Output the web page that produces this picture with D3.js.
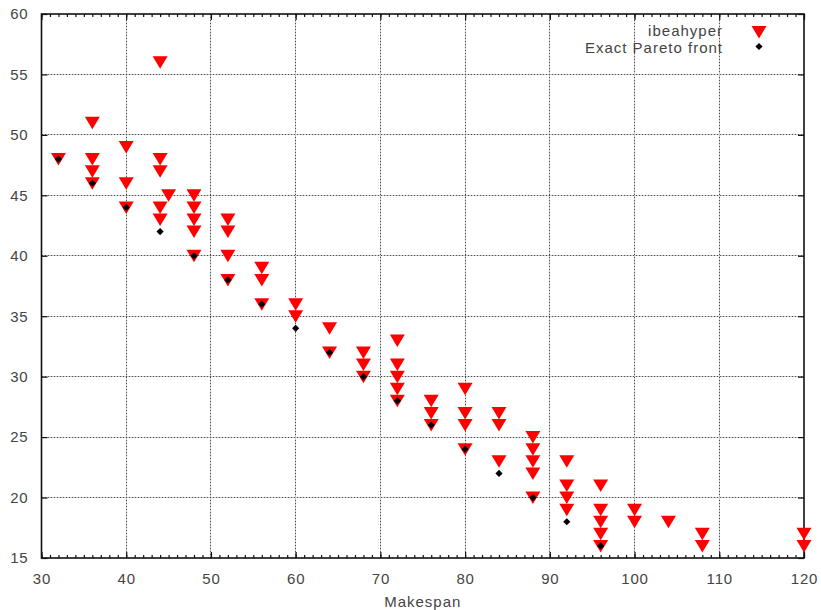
<!DOCTYPE html>
<html><head><meta charset="utf-8">
<script src="https://cdn.jsdelivr.net/npm/d3@7"></script>
<style>body{margin:0;background:#fff}svg{display:block}text{font-family:"Liberation Sans",Arial,sans-serif}</style>
</head><body><svg id="c" width="821" height="610"></svg>
<script>
const xTicks = [30,40,50,60,70,80,90,100,110,120];
const yTicks = [15,20,25,30,35,40,45,50,55,60];
// ibeahyper points: makespan x, objective y
const ibeaX = [32,36,36,36,36,40,40,40,44,44,44,44,44,45,48,48,48,48,48,52,52,52,52,56,56,56,60,60,64,64,68,68,68,72,72,72,72,72,76,76,76,80,80,80,80,84,84,84,88,88,88,88,88,92,92,92,92,96,96,96,96,96,100,100,104,108,108,120,120];
const ibeaY = [48,51,48,47,46,49,46,44,56,48,47,44,43,45,45,44,43,42,40,43,42,40,38,39,38,36,36,35,34,32,32,31,30,33,31,30,29,28,28,27,26,29,27,26,24,27,26,23,25,24,23,22,20,23,21,20,19,21,19,18,17,16,19,18,18,17,16,17,16];
// Exact Pareto front
const paretoX = [32,36,40,44,48,52,56,60,64,68,72,76,80,84,88,92,96];
const paretoY = [48,46,44,42,40,38,36,34,32,30,28,26,24,22,20,18,16];
const legendLabels = ["ibeahyper","Exact Pareto front"];
const xLabel = "Makespan";

const svg = d3.select("#c");
const L=41.5, R=804, T=14, B=558;
const x = d3.scaleLinear().domain([30,120]).range([L,R]);
const y = d3.scaleLinear().domain([15,60]).range([B,T]);
const txt = "#444";

// grid: light grey base + dark dots
function gridLines(g, vertical, vals){
  const s = g.append("g");
  [["#c8c8c8",null,1],["#222","1,2",0.75]].forEach(([c,da,op])=>{
    s.append("g").selectAll("line").data(vals).join("line")
      .attr("x1",d=>vertical?x(d):L).attr("x2",d=>vertical?x(d):R)
      .attr("y1",d=>vertical?T:y(d)).attr("y2",d=>vertical?B:y(d))
      .attr("stroke",c).attr("stroke-width",1).attr("stroke-dasharray",da).attr("opacity",op)
      .attr("shape-rendering","crispEdges");
  });
}
gridLines(svg,true,xTicks.slice(1,-1));
gridLines(svg,false,yTicks.slice(1,-1));

// axes
function mk(tr, axis){ const g=svg.append("g").attr("transform",tr); g.call(axis); g.select(".domain").remove(); return g; }
mk(`translate(0,${B})`, d3.axisBottom(x).tickValues(d3.range(30,121,1)).tickSize(-3).tickFormat(""));
mk(`translate(0,${B})`, d3.axisBottom(x).tickValues(xTicks).tickSize(-6).tickPadding(15).tickFormat(d3.format("d")));
mk(`translate(0,${T})`, d3.axisTop(x).tickValues(d3.range(30,121,1)).tickSize(-3).tickFormat(""));
mk(`translate(0,${T})`, d3.axisTop(x).tickValues(xTicks).tickSize(-6).tickFormat(""));
mk(`translate(${L},0)`, d3.axisLeft(y).tickValues(yTicks).tickSize(-6).tickPadding(13).tickFormat(d3.format("d")));
mk(`translate(${R},0)`, d3.axisRight(y).tickValues(yTicks).tickSize(-6).tickFormat(""));
svg.selectAll(".tick line").attr("stroke","#111").attr("stroke-width",1.2);
svg.selectAll(".tick text").attr("font-size",15).attr("fill",txt).attr("letter-spacing","0.8")
  .attr("font-family","'Liberation Sans',Arial,sans-serif");

// frame
svg.append("rect").attr("x",L).attr("y",T).attr("width",R-L).attr("height",B-T)
  .attr("fill","none").attr("stroke","#111").attr("stroke-width",1.6);

// axis title
svg.append("text").attr("x",(L+R)/2).attr("y",607).attr("text-anchor","middle")
  .attr("font-size",15).attr("letter-spacing","1").attr("fill",txt).text(xLabel);

// marks
const tri = d3.symbol().type({draw(ctx){ctx.moveTo(-7.5,-6);ctx.lineTo(7.5,-6);ctx.lineTo(0,6.5);ctx.closePath();}}).size(1)();
svg.append("g").selectAll("path").data(ibeaX.map((v,i)=>[v,ibeaY[i]])).join("path")
  .attr("d",tri).attr("transform",d=>`translate(${x(d[0])},${y(d[1])})`).attr("fill","#ff0000");
const dia = d3.symbol().type({draw(ctx){const r=3.6;ctx.moveTo(0,-r);ctx.lineTo(r,0);ctx.lineTo(0,r);ctx.lineTo(-r,0);ctx.closePath();}}).size(1)();
svg.append("g").selectAll("path").data(paretoX.map((v,i)=>[v,paretoY[i]])).join("path")
  .attr("d",dia).attr("transform",d=>`translate(${x(d[0])},${y(d[1])})`).attr("fill","#000");

// legend
const lg = svg.append("g");
lg.append("text").attr("x",723).attr("y",36).attr("text-anchor","end").attr("font-size",15).attr("letter-spacing","1").attr("fill",txt).text(legendLabels[0]);
lg.append("text").attr("x",723).attr("y",52.5).attr("text-anchor","end").attr("font-size",15).attr("letter-spacing","1").attr("fill",txt).text(legendLabels[1]);
lg.append("path").attr("d",tri).attr("transform","translate(759,32)").attr("fill","#ff0000");
lg.append("path").attr("d",dia).attr("transform","translate(759,46.5)").attr("fill","#000");
</script></body></html>
